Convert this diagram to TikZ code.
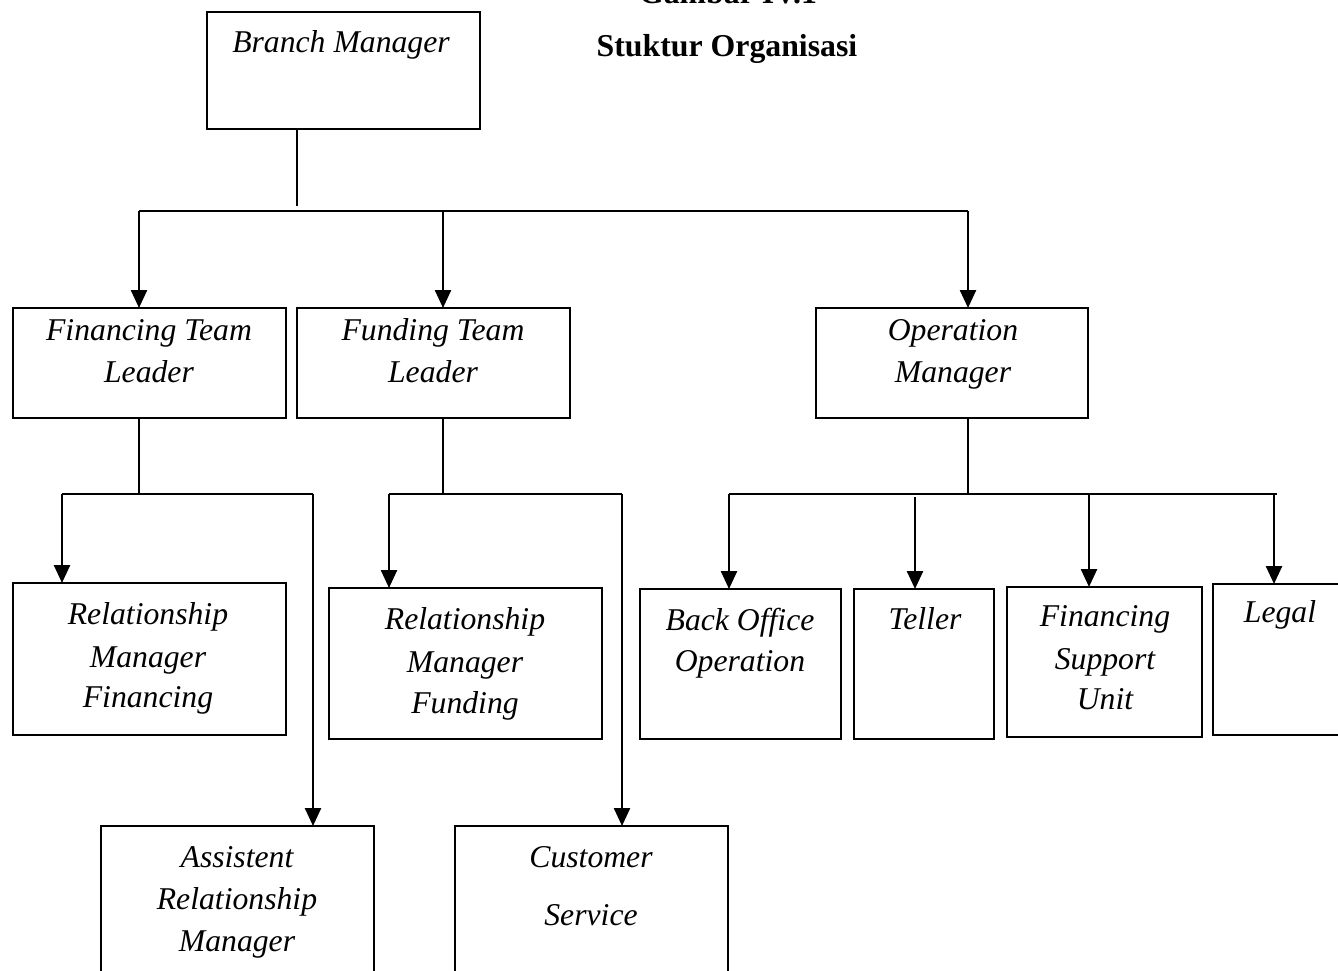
\documentclass[tikz,border=0pt]{standalone}
\usepackage{fontspec}
\setmainfont{Liberation Serif}
\usetikzlibrary{arrows.meta}
\begin{document}
\begin{tikzpicture}[x=1pt,y=-1pt,
  box/.style={draw, line width=2pt, inner sep=0pt, outer sep=0pt},
  lbl/.style={font=\fontsize{31.7}{42}\selectfont\itshape, anchor=base, inner sep=0pt},
  ttl/.style={font=\fontsize{31.8}{40}\selectfont\bfseries, anchor=base, inner sep=0pt},
  arr/.style={-{Triangle[width=16pt,length=18pt]}, line width=2.5pt},
  ln/.style={line width=2pt}]
\useasboundingbox (0,0) rectangle (1338,971);
\clip (0,0) rectangle (1338,971);

% title
\node[ttl] (t1) at (728,4) {Gambar IV.1};
\node[ttl] (t2) at (727,57) {Stuktur Organisasi};

% boxes
\node[box, minimum width=273pt, minimum height=117pt] (bm) at (343.5,70.5) {};
\node[box, minimum width=273pt, minimum height=110pt] (ftl) at (149.5,363) {};
\node[box, minimum width=273pt, minimum height=110pt] (futl) at (433.5,363) {};
\node[box, minimum width=272pt, minimum height=110pt] (om) at (952,363) {};
\node[box, minimum width=273pt, minimum height=152pt] (rmf) at (149.5,659) {};
\node[box, minimum width=273pt, minimum height=151pt] (rmfu) at (465.5,663.5) {};
\node[box, minimum width=201pt, minimum height=150pt] (bo) at (740.5,664) {};
\node[box, minimum width=140pt, minimum height=150pt] (tel) at (924,664) {};
\node[box, minimum width=195pt, minimum height=150pt] (fsu) at (1104.5,662) {};
\node[box, minimum width=132pt, minimum height=151pt] (leg) at (1279,659.5) {};
\node[box, minimum width=273pt, minimum height=164pt] (arm) at (237.5,908) {};
\node[box, minimum width=273pt, minimum height=164pt] (cs) at (591.5,908) {};

% texts
\node[lbl] (xbm) at (341,53) {Branch Manager};
\node[lbl] (xftl1) at (149,340) {Financing Team};
\node[lbl] (xftl2) at (149,382) {Leader};
\node[lbl] (xfu1) at (433,340) {Funding Team};
\node[lbl] (xfu2) at (433,382) {Leader};
\node[lbl] (xom1) at (953,340) {Operation};
\node[lbl] (xom2) at (953,382) {Manager};
\node[lbl] (xrmf1) at (148,624) {Relationship};
\node[lbl] (xrmf2) at (148,667) {Manager};
\node[lbl] (xrmf3) at (148,707) {Financing};
\node[lbl] (xrmu1) at (465,629) {Relationship};
\node[lbl] (xrmu2) at (465,672) {Manager};
\node[lbl] (xrmu3) at (465,713) {Funding};
\node[lbl] (xbo1) at (740,630) {Back Office};
\node[lbl] (xbo2) at (740,671) {Operation};
\node[lbl] (xtel) at (925,629) {Teller};
\node[lbl] (xfsu1) at (1105,626) {Financing};
\node[lbl] (xfsu2) at (1105,669) {Support};
\node[lbl] (xfsu3) at (1105,709) {Unit};
\node[lbl] (xleg) at (1280,622) {Legal};
\node[lbl] (xarm1) at (237,867) {Assistent};
\node[lbl] (xarm2) at (237,909) {Relationship};
\node[lbl] (xarm3) at (237,951) {Manager};
\node[lbl] (xcs1) at (591,867) {Customer};
\node[lbl] (xcs2) at (591,925) {Service};

% level 1 connectors
\coordinate (b0) at (297,206);
\coordinate (hL) at (139,211);
\coordinate (hM) at (443,211);
\coordinate (hR) at (968,211);
\draw[ln] (bm.south -| b0) -- (b0);
\draw[ln] (hL) -- (hR);
\draw[arr] (hL) -- (hL |- ftl.north);
\draw[arr] (hM) -- (hM |- futl.north);
\draw[arr] (hR) -- (hR |- om.north);

% financing team branch
\coordinate (f0) at (139,494);
\coordinate (fL) at (62,494);
\coordinate (fR) at (313,494);
\draw[ln] (ftl.south -| f0) -- (f0);
\draw[ln] (fL) -- (fR);
\draw[arr] (fL) -- (fL |- rmf.north);
\draw[arr] (fR) -- (fR |- arm.north);

% funding team branch
\coordinate (u0) at (443,494);
\coordinate (uL) at (389,494);
\coordinate (uR) at (622,494);
\draw[ln] (futl.south -| u0) -- (u0);
\draw[ln] (uL) -- (uR);
\draw[arr] (uL) -- (uL |- rmfu.north);
\draw[arr] (uR) -- (uR |- cs.north);

% operation branch
\coordinate (o0) at (968,494);
\coordinate (oL) at (729,494);
\coordinate (oE) at (1277,494);
\coordinate (oT) at (915,497);
\coordinate (oF) at (1089,494);
\coordinate (oR) at (1274,494);
\draw[ln] (om.south -| o0) -- (o0);
\draw[ln] (oL) -- (oE);
\draw[arr] (oL) -- (oL |- bo.north);
\draw[arr] (oT) -- (oT |- tel.north);
\draw[arr] (oF) -- (oF |- fsu.north);
\draw[arr] (oR) -- (oR |- leg.north);
\end{tikzpicture}
\end{document}
